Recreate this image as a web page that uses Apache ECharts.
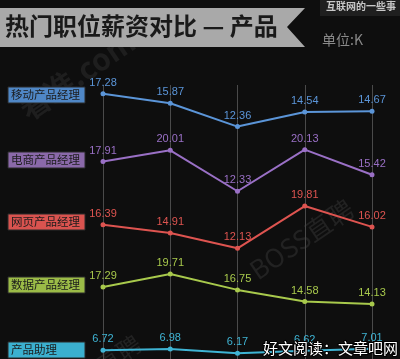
<!DOCTYPE html>
<html>
<head>
<meta charset="utf-8">
<script src="https://cdn.jsdelivr.net/npm/echarts@6/dist/echarts.min.js"></script>
<style>
html,body{margin:0;padding:0;background:#0e0e0e;}
#c{width:400px;height:359px;}
</style>
</head>
<body>
<div id="c"></div>
<script>
// ---- data ----
const categories = ['1', '2', '3', '4', '5'];
const roles = ['移动产品经理', '电商产品经理', '网页产品经理', '数据产品经理', '产品助理'];
const mobilePM = [17.28, 15.87, 12.36, 14.54, 14.67];
const ecomPM = [17.91, 20.01, 12.33, 20.13, 15.42];
const webPM = [16.39, 14.91, 12.13, 19.81, 16.02];
const dataPM = [17.29, 19.71, 16.75, 14.58, 14.13];
const assistantPM = [6.72, 6.98, 6.17, 6.62, 7.01];
const titleText = '热门职位薪资对比 — 产品';
const unitText = '单位:K';
const cornerText = '互联网的一些事';
const overlayText = '好文阅读：文章吧网';

// ---- layout / style ----
const seriesData = [mobilePM, ecomPM, webPM, dataPM, assistantPM];
const colors = ['#5b95d8', '#9a70c6', '#de5450', '#a8c94c', '#3fb4d4'];
const boxColors = ['#4f87c6', '#8a69a9', '#d9534f', '#9bbb47', '#3bb0cf'];
const panelTop = [89, 145, 205, 272.4, 346];
const panelHeight = [40, 48, 44, 32.3, 8.3];
const panelMin = [12, 12, 12, 14, 6];
const panelMax = [18, 21, 20, 20, 7.5];
const boxTop = [87, 152, 214, 277, 342];

const grids = [], xAxes = [], yAxes = [], series = [];
grids.push({left: 103, right: 28, top: 85, bottom: 0});
xAxes.push({type: 'category', data: categories, gridIndex: 0, boundaryGap: false,
  axisLine: {show: false}, axisTick: {show: false}, axisLabel: {show: false},
  splitLine: {show: true, lineStyle: {color: '#4a4a4a', width: 1}}});
yAxes.push({type: 'value', gridIndex: 0, show: false, splitLine: {show: false}});

for (let i = 0; i < 5; i++) {
  const g = i + 1;
  grids.push({left: 103, right: 28, top: panelTop[i], height: panelHeight[i]});
  xAxes.push({type: 'category', data: categories, gridIndex: g, boundaryGap: false, show: false});
  yAxes.push({type: 'value', gridIndex: g, min: panelMin[i], max: panelMax[i], show: false, splitLine: {show: false}});
  series.push({
    type: 'line', name: roles[i], xAxisIndex: g, yAxisIndex: g, data: seriesData[i],
    symbol: 'circle', symbolSize: 5, showAllSymbol: true,
    lineStyle: {color: colors[i], width: 2},
    itemStyle: {color: colors[i]},
    label: {show: true, position: 'top', distance: 3, color: colors[i],
      fontSize: 11, fontFamily: 'Liberation Sans, Arial, sans-serif',
      formatter: p => p.value.toFixed(2)},
    animation: false, z: 3
  });
}

const graphic = [
  {type: 'polygon', shape: {points: [[0, 8], [305, 8], [287, 27], [305, 47], [0, 47]]},
    style: {fill: '#a9a9a9'}, z: 1},
  {type: 'text', left: 5, top: 14, style: {text: titleText, fill: '#1a1a1a',
    font: 'bold 24px "Noto Sans CJK SC", sans-serif'}, z: 2},
  {type: 'rect', shape: {x: 320, y: 0, width: 80, height: 16}, style: {fill: '#1f1f1f'}, z: 1},
  {type: 'text', left: 326, top: 1, style: {text: cornerText, fill: '#c8c8c8',
    font: 'bold 10px "Noto Sans CJK SC", sans-serif'}, z: 2},
  {type: 'text', left: 322, top: 33, style: {text: unitText, fill: '#8a8a8a',
    font: '14px "Noto Sans CJK SC", sans-serif'}, z: 2},
  {type: 'text', x: 14, y: 100, rotation: 0.6, style: {text: '看准.com', fill: '#1e1e1e',
    font: 'bold 30px "Noto Sans CJK SC", sans-serif'}, z: 0},
  {type: 'text', x: 245, y: 262, rotation: 0.6, style: {text: 'BOSS直聘', fill: '#222222',
    font: '26px "Noto Sans CJK SC", sans-serif'}, z: 0},
  {type: 'text', x: 92, y: 358, rotation: 0.6, style: {text: '直聘', fill: '#222222',
    font: '24px "Noto Sans CJK SC", sans-serif'}, z: 0}
];
for (let i = 0; i < 5; i++) {
  graphic.push({type: 'rect', shape: {x: 8, y: boxTop[i], width: 77, height: 16},
    style: {fill: boxColors[i], stroke: '#2a2a2a', lineWidth: 1}, z: 5});
  graphic.push({type: 'text', left: 11, top: boxTop[i] + 1.5, style: {text: roles[i], fill: '#1c1c1c',
    font: '11.5px "Noto Sans CJK SC", sans-serif'}, z: 6});
}
graphic.push({type: 'text', left: 262, top: 340, style: {text: overlayText, fill: '#ffffff',
  stroke: '#000000', lineWidth: 2, font: '15px "Noto Sans CJK SC", sans-serif'}, z: 10});

const chart = echarts.init(document.getElementById('c'), null, {renderer: 'canvas'});
chart.setOption({
  backgroundColor: '#0e0e0e',
  animation: false,
  grid: grids, xAxis: xAxes, yAxis: yAxes, series: series,
  graphic: graphic
});
</script>
</body>
</html>
